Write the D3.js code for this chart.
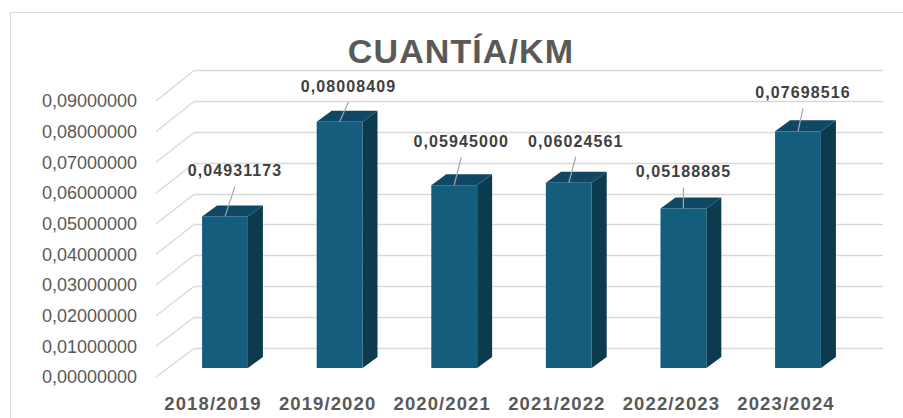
<!DOCTYPE html>
<html>
<head>
<meta charset="utf-8">
<script src="https://cdn.jsdelivr.net/npm/d3@7"></script>
<style>
  body { margin: 0; background: #fff; }
  svg { display: block; }
</style>
</head>
<body>
<svg id="chart" width="903" height="418"></svg>
<script>
const categories = ['2018/2019', '2019/2020', '2020/2021', '2021/2022', '2022/2023', '2023/2024'];
const values = [0.04931173, 0.08008409, 0.05945000, 0.06024561, 0.05188885, 0.07698516];
const tickValues = [0, 0.01, 0.02, 0.03, 0.04, 0.05, 0.06, 0.07, 0.08, 0.09];
const title = 'CUANTÍA/KM';

// hand-placed data label nudges (as in the original workbook)
const labelNudge = [
  { dx: 10, dy: -40 },
  { dx: 9, dy: -30 },
  { dx: 7, dy: -38 },
  { dx: 7, dy: -36 },
  { dx: 0, dy: -31 },
  { dx: 5, dy: -33 }
];

const fmt = v => d3.format('.8f')(v).replace('.', ',');

const depth = { dx: 15, dy: -11 };
const svg = d3.select('#chart');

// chart frame
svg
  .append('rect')
  .attr('x', 10.5)
  .attr('y', 12.5)
  .attr('width', 1000)
  .attr('height', 1000)
  .attr('fill', 'none')
  .attr('stroke', '#d9d9d9');

// scales: front plane, back wall, and the label column on the side wall
const yFront = d3.scaleLinear().domain([0, 0.09]).range([368, 91.3]);
const yBack = d3.scaleLinear().domain([0, 0.09]).range([348, 70]);
const yLabel = d3.scaleLinear().domain([0, 0.09]).range([377, 101]);

const x = d3
  .scaleBand()
  .domain(categories)
  .range([167.7, 855.3])
  .paddingInner(0.6)
  .paddingOuter(0.3);

// back wall gridlines
svg
  .append('g')
  .selectAll('line')
  .data(tickValues)
  .enter()
  .append('line')
  .attr('x1', 194)
  .attr('x2', 883)
  .attr('y1', d => Math.round(yBack(d)) + 0.5)
  .attr('y2', d => Math.round(yBack(d)) + 0.5)
  .attr('stroke', '#d9d9d9')
  .attr('stroke-width', 1.3);

// side wall diagonals
svg
  .append('g')
  .selectAll('line')
  .data(tickValues)
  .enter()
  .append('line')
  .attr('x1', 156)
  .attr('y1', d => yLabel(d))
  .attr('x2', 194)
  .attr('y2', d => Math.round(yBack(d)) + 0.5)
  .attr('stroke', '#d9d9d9')
  .attr('stroke-width', 1.3);

// y axis labels
const yAxis = svg
  .append('g')
  .attr('transform', 'translate(137,0)')
  .call(
    d3
      .axisLeft(yLabel)
      .tickValues(tickValues)
      .tickSize(0)
      .tickPadding(0)
      .tickFormat(fmt)
  );
yAxis.select('.domain').remove();
yAxis
  .selectAll('text')
  .attr('font-family', '"Liberation Sans", Arial, sans-serif')
  .attr('font-size', 18)
  .attr('fill', '#595959');

// x axis labels
const xAxis = svg
  .append('g')
  .attr('transform', 'translate(-12,395)')
  .call(d3.axisBottom(x).tickSize(0).tickPadding(0));
xAxis.select('.domain').remove();
xAxis
  .selectAll('text')
  .attr('dy', '0.71em')
  .attr('y', 2)
  .attr('font-family', '"Liberation Sans", Arial, sans-serif')
  .attr('font-weight', 'bold')
  .attr('font-size', 18.5)
  .attr('letter-spacing', 1.1)
  .attr('fill', '#595959');

// 3D bars
const bars = svg
  .append('g')
  .selectAll('g')
  .data(values)
  .enter()
  .append('g');

bars
  .append('path')
  .attr('fill', '#0c3b50')
  .attr('d', (d, i) => {
    const x1 = x(categories[i]) + x.bandwidth();
    const top = yFront(d);
    const bot = yFront(0);
    return `M${x1},${top}L${x1 + depth.dx},${top + depth.dy}L${x1 + depth.dx},${bot + depth.dy}L${x1},${bot}Z`;
  });

bars
  .append('path')
  .attr('fill', '#0e4864')
  .attr('d', (d, i) => {
    const x0 = x(categories[i]);
    const x1 = x0 + x.bandwidth();
    const top = yFront(d);
    return `M${x0},${top}L${x0 + depth.dx},${top + depth.dy}L${x1 + depth.dx},${top + depth.dy}L${x1},${top}Z`;
  });

bars
  .append('rect')
  .attr('fill', '#155d7d')
  .attr('x', (d, i) => x(categories[i]))
  .attr('width', x.bandwidth())
  .attr('y', d => yFront(d))
  .attr('height', d => yFront(0) - yFront(d));

// leader lines and data labels
const labels = svg
  .append('g')
  .selectAll('g')
  .data(values)
  .enter()
  .append('g');

labels
  .append('line')
  .attr('x1', (d, i) => x(categories[i]) + x.bandwidth() / 2 + labelNudge[i].dx)
  .attr('y1', (d, i) => yFront(d) + labelNudge[i].dy + 10)
  .attr('x2', (d, i) => x(categories[i]) + x.bandwidth() / 2)
  .attr('y2', d => yFront(d))
  .attr('stroke', '#a6a6a6')
  .attr('stroke-width', 1.2);

labels
  .append('text')
  .attr('x', (d, i) => x(categories[i]) + x.bandwidth() / 2 + labelNudge[i].dx)
  .attr('y', (d, i) => yFront(d) + labelNudge[i].dy)
  .attr('text-anchor', 'middle')
  .attr('font-family', '"Liberation Sans", Arial, sans-serif')
  .attr('font-weight', 'bold')
  .attr('font-size', 16)
  .attr('letter-spacing', 1.1)
  .attr('fill', '#404040')
  .text(d => fmt(d));

// title
svg
  .append('text')
  .attr('x', 461)
  .attr('y', 63)
  .attr('text-anchor', 'middle')
  .attr('font-family', '"Liberation Sans", Arial, sans-serif')
  .attr('font-weight', 'bold')
  .attr('font-size', 34)
  .attr('letter-spacing', 1.1)
  .attr('fill', '#595959')
  .text(title);
</script>
</body>
</html>
